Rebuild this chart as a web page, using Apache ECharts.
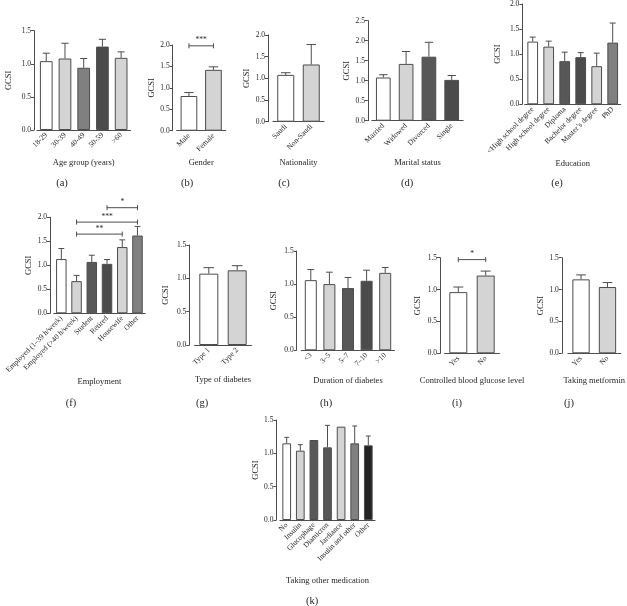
<!DOCTYPE html>
<html>
<head>
<meta charset="utf-8">
<script src="https://cdn.jsdelivr.net/npm/echarts@6/dist/echarts.min.js"></script>
<style>
  html, body { margin: 0; padding: 0; background: #fff; }
  #chart { width: 627px; height: 606px; }
</style>
</head>
<body>
<div id="chart"></div>
<script>
// MARK: - Data (mean GCSI and top of error bar)

const ageLabels = ["18-29", "30-39", "40-49", "50-59", ">60"];
const ageMeans = [1.04, 1.08, 0.94, 1.26, 1.09];
const ageUpper = [1.16, 1.31, 1.08, 1.37, 1.18];

const genderLabels = ["Male", "Female"];
const genderMeans = [0.81, 1.42];
const genderUpper = [0.89, 1.49];

const nationLabels = ["Saudi", "Non-Saudi"];
const nationMeans = [1.08, 1.32];
const nationUpper = [1.13, 1.78];

const maritalLabels = ["Married", "Widowed", "Divorced", "Single"];
const maritalMeans = [1.08, 1.42, 1.60, 1.02];
const maritalUpper = [1.15, 1.73, 1.96, 1.13];

const eduLabels = ["<High school degree", "High school degree", "Diploma", "Bachelor degree", "Master\u2019s degree", "PhD"];
const eduMeans = [1.25, 1.15, 0.86, 0.94, 0.76, 1.23];
const eduUpper = [1.34, 1.26, 1.04, 1.03, 1.02, 1.62];

const employLabels = ["Employed (1\u201339 h/week)", "Employed (>40 h/week)", "Student", "Retired", "Housewife", "Other"];
const employMeans = [1.13, 0.67, 1.07, 1.03, 1.38, 1.62];
const employUpper = [1.35, 0.79, 1.21, 1.12, 1.53, 1.81];

const typeLabels = ["Type 1", "Type 2"];
const typeMeans = [1.07, 1.12];
const typeUpper = [1.16, 1.19];

const durationLabels = ["<3", "3\u20135", "5\u20137", "7\u201310", ">10"];
const durationMeans = [1.06, 1.00, 0.94, 1.05, 1.17];
const durationUpper = [1.22, 1.18, 1.10, 1.21, 1.25];

const glucoseLabels = ["Yes", "No"];
const glucoseMeans = [0.96, 1.22];
const glucoseUpper = [1.04, 1.29];

const metforminLabels = ["Yes", "No"];
const metforminMeans = [1.16, 1.04];
const metforminUpper = [1.23, 1.11];

const medLabels = ["No", "Insulin", "Glucophage", "Diamicron", "Jardiance", "Insulin and other", "Other"];
const medMeans = [1.15, 1.04, 1.20, 1.09, 1.40, 1.15, 1.12];
const medUpper = [1.24, 1.13, null, 1.42, null, 1.41, 1.26];

// significance brackets: [from index, to index, height, stars]
const genderSig = [[0, 1, 1.98, "***"]];
const employSig = [[3, 5, 2.2, "*"], [1, 5, 1.9, "***"], [1, 4, 1.65, "**"]];
const glucoseSig = [[0, 1, 1.47, "*"]];

// MARK: - Layout and styles

const W = "#ffffff", L = "#d4d4d4", M = "#808080", D = "#585858", D2 = "#4b4b4b", K = "#232323";
const INK = "#4d4d4d";
const TEXT = "#262626";
const FONT = "Liberation Serif";

const panels = [
    { tag: "(a)", title: "Age group (years)", labels: ageLabels, means: ageMeans, upper: ageUpper, colors: [W, L, M, D2, L],
      max: 1.5, box: [36.9, 30.7, 93.6, 99.3], off: 2.9, bw: 12.7, nameGap: 33, yGap: 25, tagPos: [62, 183] },
    { tag: "(b)", title: "Gender", labels: genderLabels, means: genderMeans, upper: genderUpper, colors: [W, L], sig: genderSig,
      max: 2.0, box: [176.7, 45, 49, 85.7], off: 4, bw: 16.7, nameGap: 32, yGap: 21, tagPos: [187, 183] },
    { tag: "(c)", title: "Nationality", labels: nationLabels, means: nationMeans, upper: nationUpper, colors: [W, L],
      max: 2.0, box: [273, 35, 51, 86.7], off: 5, bw: 17, nameGap: 41, yGap: 20, tagPos: [284, 183] },
    { tag: "(d)", title: "Marital status", labels: maritalLabels, means: maritalMeans, upper: maritalUpper, colors: [W, L, D, D2],
      max: 2.5, box: [371.9, 20.7, 91.2, 100], off: 4, bw: 14.7, nameGap: 42, yGap: 18, tagPos: [407, 183] },
    { tag: "(e)", title: "Education", labels: eduLabels, means: eduMeans, upper: eduUpper, colors: [W, L, D, D2, L, M],
      max: 2.0, box: [524.7, 3.3, 96, 101], off: 2.4, bw: 10.7, nameGap: 59, yGap: 25, tagPos: [557, 183] },
    { tag: "(f)", title: "Employment", labels: employLabels, means: employMeans, upper: employUpper, colors: [W, L, D, D2, L, M], sig: employSig,
      max: 2.0, box: [53.7, 217.3, 91.4, 96], off: 3.7, bw: 10.5, nameGap: 67, yGap: 21, tagPos: [71, 403] },
    { tag: "(g)", title: "Type of diabetes", labels: typeLabels, means: typeMeans, upper: typeUpper, colors: [W, L],
      max: 1.5, box: [194.6, 245, 56.8, 100], off: 5.3, bw: 19, nameGap: 35, yGap: 24, tagPos: [202, 403] },
    { tag: "(h)", title: "Duration of diabetes", labels: durationLabels, means: durationMeans, upper: durationUpper, colors: [W, L, D, D2, L],
      max: 1.5, box: [301.5, 251, 93, 99.3], off: 4.8, bw: 12, nameGap: 30, yGap: 23, tagPos: [326, 403] },
    { tag: "(i)", title: "Controlled blood glucose level", labels: glucoseLabels, means: glucoseMeans, upper: glucoseUpper, colors: [W, L], sig: glucoseSig,
      max: 1.5, box: [444.6, 257.7, 54.8, 95.6], off: 4.6, bw: 18, nameGap: 27, yGap: 22, tagPos: [457, 403] },
    { tag: "(j)", title: "Taking metformin", labels: metforminLabels, means: metforminMeans, upper: metforminUpper, colors: [W, L],
      max: 1.5, box: [567.8, 257.7, 54, 95.6], off: 6, bw: 17.3, nameGap: 27, yGap: 20, tagPos: [569, 403] },
    { tag: "(k)", title: "Taking other medication", labels: medLabels, means: medMeans, upper: medUpper, colors: [W, L, D, D, L, M, K],
      max: 1.5, box: [279.9, 420, 95.2, 100], off: 3.5, bw: 8.7, nameGap: 61, yGap: 21, tagPos: [312, 601] },
];

// MARK: - Renderers

function errorBarRenderer(barWidth) {
    return function (params, api) {
        let upper = api.value(2);
        if (upper === null || isNaN(upper)) {
            return;
        }
        let top = api.coord([api.value(0), upper]);
        let base = api.coord([api.value(0), api.value(1)]);
        let half = barWidth * 0.28;
        let style = { stroke: INK, lineWidth: 1 };
        return {
            type: 'group',
            children: [
                { type: 'line', shape: { x1: top[0], y1: base[1], x2: top[0], y2: top[1] }, style: style },
                { type: 'line', shape: { x1: top[0] - half, y1: top[1], x2: top[0] + half, y2: top[1] }, style: style }
            ]
        };
    };
}

function bracketRenderer(params, api) {
    let a = api.coord([api.value(0), api.value(2)]);
    let b = api.coord([api.value(1), api.value(2)]);
    let style = { stroke: INK, lineWidth: 1 };
    return {
        type: 'group',
        children: [
            { type: 'line', shape: { x1: a[0], y1: a[1], x2: b[0], y2: b[1] }, style: style },
            { type: 'line', shape: { x1: a[0], y1: a[1] - 2.5, x2: a[0], y2: a[1] + 2.5 }, style: style },
            { type: 'line', shape: { x1: b[0], y1: b[1] - 2.5, x2: b[0], y2: b[1] + 2.5 }, style: style },
            {
                type: 'text',
                style: {
                    x: (a[0] + b[0]) / 2, y: a[1] - 1.5,
                    text: api.value(3),
                    textAlign: 'center', textVerticalAlign: 'bottom',
                    fill: TEXT, font: '7.5px "' + FONT + '"'
                }
            }
        ]
    };
}

// MARK: - Option assembly

let grids = [], xAxes = [], yAxes = [], series = [], tags = [];

panels.forEach((p, i) => {
    grids.push({ left: p.box[0], top: p.box[1], width: p.box[2], height: p.box[3], containLabel: false });

    xAxes.push({
        gridIndex: i,
        type: 'category',
        data: p.labels,
        name: p.title,
        nameLocation: 'middle',
        nameGap: p.nameGap,
        nameTextStyle: { fontFamily: FONT, fontSize: 8.5, color: TEXT, verticalAlign: 'middle' },
        axisLine: { lineStyle: { color: INK, width: 1 } },
        axisTick: { alignWithLabel: true, length: 3, lineStyle: { color: INK } },
        axisLabel: { interval: 0, rotate: 45, margin: 4, fontFamily: FONT, fontSize: 7.5, color: TEXT },
        splitLine: { show: false }
    });

    yAxes.push({
        gridIndex: i,
        type: 'value',
        min: 0,
        max: p.max,
        interval: 0.5,
        offset: p.off,
        name: 'GCSI',
        nameLocation: 'middle',
        nameGap: p.yGap,
        nameTextStyle: { fontFamily: FONT, fontSize: 8.5, color: TEXT, verticalAlign: 'middle' },
        axisLine: { show: true, lineStyle: { color: INK, width: 1 } },
        axisTick: { show: true, length: 3, lineStyle: { color: INK } },
        axisLabel: { margin: 3, fontFamily: FONT, fontSize: 7.5, color: TEXT, formatter: v => v.toFixed(1) },
        splitLine: { show: false }
    });

    series.push({
        type: 'bar',
        xAxisIndex: i,
        yAxisIndex: i,
        barWidth: p.bw,
        silent: true,
        data: p.means.map((v, k) => ({
            value: v,
            itemStyle: { color: p.colors[k], borderColor: INK, borderWidth: 1 }
        }))
    });

    series.push({
        type: 'custom',
        xAxisIndex: i,
        yAxisIndex: i,
        silent: true,
        renderItem: errorBarRenderer(p.bw),
        data: p.means.map((v, k) => [k, v, p.upper[k]])
    });

    if (p.sig) {
        series.push({
            type: 'custom',
            xAxisIndex: i,
            yAxisIndex: i,
            silent: true,
            clip: false,
            renderItem: bracketRenderer,
            data: p.sig
        });
    }

    tags.push({
        type: 'text',
        x: p.tagPos[0],
        y: p.tagPos[1],
        style: {
            text: p.tag,
            textAlign: 'center',
            textVerticalAlign: 'middle',
            fill: TEXT,
            font: '10.5px "' + FONT + '"'
        }
    });
});

let chart = echarts.init(document.getElementById('chart'), null, { renderer: 'canvas' });

let option = {
    backgroundColor: '#ffffff',
    animation: false,
    grid: grids,
    xAxis: xAxes,
    yAxis: yAxes,
    series: series,
    graphic: tags
};

option && chart.setOption(option);
</script>
</body>
</html>
